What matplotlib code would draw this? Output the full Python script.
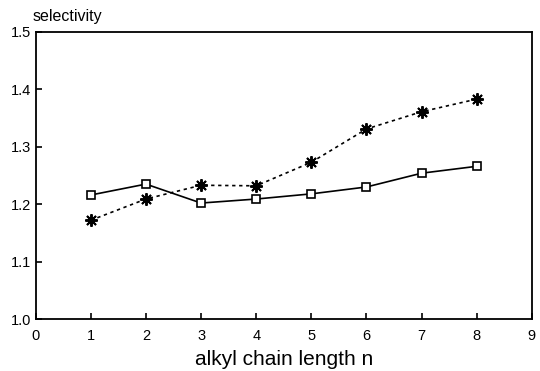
import matplotlib.pyplot as plt

# alkyl chain length
n = [1, 2, 3, 4, 5, 6, 7, 8]
# selectivity, squares (solid line)
sel_squares = [1.216, 1.235, 1.202, 1.209, 1.218, 1.230, 1.254, 1.266]
# selectivity, asterisks (dashed line)
sel_stars = [1.172, 1.209, 1.233, 1.232, 1.273, 1.331, 1.361, 1.383]

xticks = [0, 1, 2, 3, 4, 5, 6, 7, 8, 9]
yticks = [1.0, 1.1, 1.2, 1.3, 1.4, 1.5]
ytick_labels = ["1.0", "1.1", "1.2", "1.3", "1.4", "1.5"]

plt.rcParams['font.family'] = ['Liberation Sans', 'DejaVu Sans']

fig = plt.figure(figsize=(5.4, 3.71), dpi=100)
ax = fig.add_axes([0.066, 0.140, 0.919, 0.774])

ax.plot(n, sel_squares, color='black', linewidth=1.2, marker='s',
        markersize=6, markerfacecolor='white', markeredgecolor='black',
        markeredgewidth=1.2)
ax.plot(n, sel_stars, color='black', linewidth=1.2, linestyle=(0, (2, 2.2)),
        marker=(8, 2, 0), markersize=9, markeredgewidth=1.4,
        markeredgecolor='black')

ax.set_xlim(0, 9)
ax.set_ylim(1.0, 1.5)
ax.set_xticks(xticks)
ax.set_yticks(yticks)
ax.set_yticklabels(ytick_labels)
ax.tick_params(direction='in', length=4, width=1.2, labelsize=10.5, pad=7)
ax.tick_params(axis='y', pad=3)
for s in ax.spines.values():
    s.set_linewidth(1.3)

ax.set_xlabel("alkyl chain length n", fontsize=15, labelpad=5)
fig.text(0.060, 0.935, "selectivity", fontsize=11.5, ha='left', va='bottom')

fig.savefig("out.png", dpi=100)
